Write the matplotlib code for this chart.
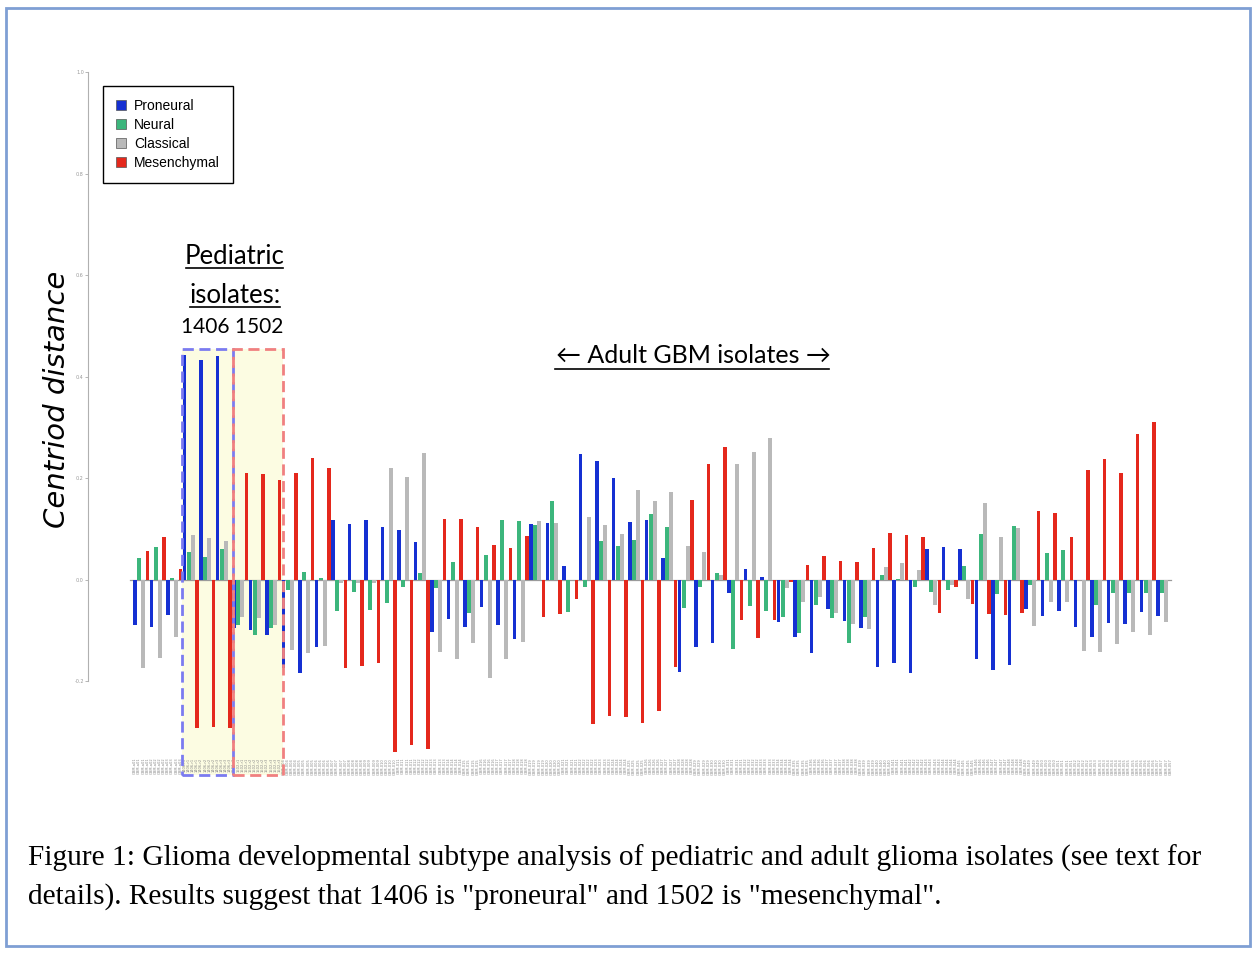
import matplotlib
matplotlib.use('Agg')
import matplotlib.pyplot as plt
from matplotlib.patches import Patch, Rectangle
from matplotlib.lines import Line2D
import numpy as np

# centroid distance per isolate, one value per subtype
proneural = [-0.089, -0.093, -0.069, 0.443, 0.433, 0.441, -0.095, -0.099, -0.108, -0.173,
             -0.183, -0.132, 0.118, 0.110, 0.118, 0.104, 0.099, 0.075, -0.102, -0.077,
             -0.093, -0.053, -0.089, -0.116, 0.110, 0.112, 0.028, 0.248, 0.234, 0.201,
             0.114, 0.118, 0.043, -0.181, -0.132, -0.124, -0.026, 0.022, 0.006, -0.083,
             -0.112, -0.144, -0.057, -0.081, -0.095, -0.171, -0.164, -0.183, 0.061, 0.065,
             0.061, -0.156, -0.177, -0.167, -0.057, -0.071, -0.061, -0.093, -0.112, -0.085,
             -0.087, -0.063, -0.071]
neural = [0.043, 0.065, 0.004, 0.055, 0.045, 0.061, -0.089, -0.108, -0.095, -0.020,
          0.016, 0.004, -0.061, -0.024, -0.059, -0.045, -0.014, 0.014, -0.016, 0.035,
          -0.065, 0.049, 0.118, 0.116, 0.108, 0.156, -0.063, -0.014, 0.077, 0.067,
          0.079, 0.130, 0.104, -0.055, -0.014, 0.014, -0.136, -0.051, -0.061, -0.073,
          -0.104, -0.049, -0.075, -0.124, -0.073, 0.010, 0.002, -0.014, -0.024, -0.020,
          0.028, 0.091, -0.028, 0.106, -0.010, 0.053, 0.059, 0.000, -0.049, -0.026,
          -0.026, -0.026, -0.026]
classical = [-0.173, -0.154, -0.112, 0.089, 0.083, 0.077, -0.073, -0.075, -0.089, -0.138,
             -0.144, -0.130, -0.006, -0.006, -0.006, 0.221, 0.203, 0.250, -0.142, -0.156,
             -0.124, -0.193, -0.156, -0.122, 0.116, 0.112, 0.000, 0.124, 0.108, 0.091,
             0.177, 0.156, 0.173, 0.067, 0.055, 0.010, 0.229, 0.252, 0.280, -0.016,
             -0.043, -0.033, -0.065, -0.087, -0.097, 0.026, 0.033, 0.020, -0.049, -0.010,
             -0.037, 0.152, 0.085, 0.102, -0.091, -0.043, -0.043, -0.140, -0.142, -0.126,
             -0.102, -0.108, -0.083]
mesenchymal = [0.057, 0.085, 0.022, -0.292, -0.290, -0.292, 0.211, 0.209, 0.197, 0.211,
               0.240, 0.221, -0.173, -0.169, -0.164, -0.339, -0.325, -0.333, 0.120, 0.120,
               0.104, 0.069, 0.063, 0.087, -0.073, -0.067, -0.037, -0.284, -0.268, -0.270,
               -0.282, -0.258, -0.171, 0.158, 0.229, 0.262, -0.079, -0.114, -0.079, -0.004,
               0.030, 0.047, 0.037, 0.035, 0.063, 0.093, 0.089, 0.085, -0.065, -0.014,
               -0.047, -0.067, -0.069, -0.065, 0.136, 0.132, 0.085, 0.217, 0.238, 0.211,
               0.288, 0.311, 0.000]

subtypes = ['Proneural', 'Neural', 'Classical', 'Mesenchymal']
colors = ['#1530d2', '#3cb67c', '#b9b9b9', '#e4281c']

# sample names (x tick labels, unreadable in the original)
samples = ['GBM-a01', 'GBM-a02', 'GBM-a03', '1406-r1', '1406-r2', '1406-r3',
           '1502-r1', '1502-r2', '1502-r3'] + ['GBM-%03d' % i for i in range(4, 58)]

W, H = 1256, 960
fig = plt.figure(figsize=(W / 100, H / 100), dpi=100)


def fx(x):
    return x / W


def fy(y):
    return 1 - y / H


ax = fig.add_axes([fx(88), fy(755), fx(1180) - fx(88), fy(60) - fy(755)])

groups = np.arange(len(proneural))
offsets = [0, 0.25, 0.5, 0.75]
for vals, col, name, off in zip([proneural, neural, classical, mesenchymal], colors, subtypes, offsets):
    ax.bar(groups + off, vals, width=0.23, color=col, label=name, zorder=3, linewidth=0)

ax.set_xlim(-2.85, 63.33)
ax.set_ylim(-0.345, 1.0246)

ax.plot([-0.3, 62.8], [0, 0], color='#9a9a9a', lw=0.9, zorder=2)

for s in ['top', 'right', 'bottom']:
    ax.spines[s].set_visible(False)
ax.spines['left'].set_color('#b0b0b0')
ax.spines['left'].set_linewidth(0.8)
ax.spines['left'].set_bounds(-0.2, 1.0)
yt = np.arange(-0.2, 1.01, 0.2)
ax.set_yticks(yt)
ax.set_yticklabels(['%.1f' % v for v in yt])
ax.tick_params(axis='y', labelsize=3.5, colors='#999999', length=2, width=0.5, pad=1)

xpos = (groups[:, None] + np.array(offsets)[None, :]).ravel()
xlab = [s for s in samples for _ in range(4)]
ax.set_xticks(xpos)
ax.set_xticklabels(xlab, rotation=90)
ax.tick_params(axis='x', labelsize=2.6, colors='#888888', length=0, pad=2)

# pediatric boxes
ax.add_patch(Rectangle((2.85, -0.384), 3.09, 0.839, facecolor='#fcfce2', edgecolor='none',
                       zorder=1, clip_on=False))
ax.add_patch(Rectangle((5.94, -0.384), 3.03, 0.839, facecolor='#fcfce2', edgecolor='none',
                       zorder=1, clip_on=False))
ax.add_patch(Rectangle((2.85, -0.384), 3.09, 0.839, fill=False, edgecolor='#7b7bf0',
                       linestyle=(0, (4, 2)), lw=2, zorder=4, clip_on=False))
ax.add_patch(Rectangle((5.94, -0.384), 3.03, 0.839, fill=False, edgecolor='#f08080',
                       linestyle=(0, (4, 2)), lw=2, zorder=4, clip_on=False))

handles = [Patch(facecolor=c, edgecolor='#555555', linewidth=0.5) for c in colors]
leg = ax.legend(handles, subtypes, loc='upper left', bbox_to_anchor=(fx(103), fy(86)),
                bbox_transform=fig.transFigure, fancybox=False, edgecolor='black',
                framealpha=1, handlelength=0.7, handleheight=0.7, handletextpad=0.6,
                labelspacing=0.36, borderpad=0.95, borderaxespad=0,
                prop={'family': 'Liberation Sans', 'size': 10})
leg.get_frame().set_linewidth(1)

fig.text(fx(57), fy(399), 'Centriod distance', rotation=90, ha='center', va='center',
         fontsize=21, style='italic', family='DejaVu Sans')

lab = dict(ha='center', va='center', family=['Lato', 'DejaVu Sans'], color='black')
fig.text(fx(235), fy(256), 'Pediatric', fontsize=18.5, **lab)
fig.text(fx(235), fy(295), 'isolates:', fontsize=18.5, **lab)
fig.text(fx(232), fy(327), '1406 1502', fontsize=15, **lab)
fig.text(fx(693), fy(355), '\u2190 Adult GBM isolates \u2192', fontsize=18, **lab)
for x0, x1, y in [(186, 283, 268), (190, 280, 307), (555, 829, 369)]:
    fig.add_artist(Line2D([fx(x0), fx(x1)], [fy(y), fy(y)], color='black', lw=1.2))

cap = dict(ha='left', va='center', family='Liberation Serif', fontsize=21.2, color='black')
fig.text(fx(28), fy(858), 'Figure 1: Glioma developmental subtype analysis of pediatric and adult '
         'glioma isolates (see text for', **cap)
fig.text(fx(28), fy(897), 'details). Results suggest that 1406 is "proneural" and 1502 is '
         '"mesenchymal".', **cap)

fig.add_artist(Rectangle((fx(6), fy(946)), fx(1250) - fx(6), fy(8) - fy(946), fill=False,
                         edgecolor='#7f9fd4', lw=2, transform=fig.transFigure))

fig.savefig('out.png', dpi=100, facecolor='white')
